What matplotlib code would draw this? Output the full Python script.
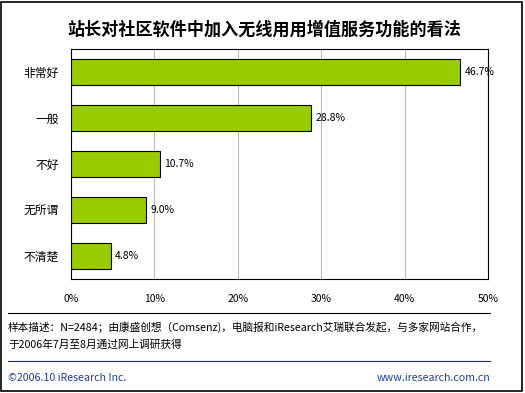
import matplotlib.pyplot as plt
from matplotlib.patches import Rectangle
from matplotlib.lines import Line2D

plt.rcParams['font.family'] = ['Noto Sans CJK SC', 'DejaVu Sans']

categories = ['非常好', '一般', '不好', '无所谓', '不清楚']
values = [46.7, 28.8, 10.7, 9.0, 4.8]
xticks = [0, 10, 20, 30, 40, 50]
xtick_labels = ['0%', '10%', '20%', '30%', '40%', '50%']

title = '站长对社区软件中加入无线用用增值服务功能的看法'
note1 = '样本描述：N=2484；由康盛创想（Comsenz)，电脑报和iResearch艾瑞联合发起，与多家网站合作，'
note2 = '于2006年7月至8月通过网上调研获得'
copyright_txt = '©2006.10 iResearch Inc.'
site_txt = 'www.iresearch.com.cn'

W, H = 525, 393
fig = plt.figure(figsize=(W / 100, H / 100), dpi=100)
fig.patch.set_facecolor('white')

# outer frame
fig.add_artist(Rectangle((1 / W, 2 / H), 521 / W, 389 / H, transform=fig.transFigure,
                         fill=False, edgecolor='black', linewidth=1.2))

ax = fig.add_axes([71 / W, 1 - 279 / H, 417 / W, 230 / H])
y = range(len(categories))
ax.barh(y, values, height=0.55, color='#99CC00', edgecolor='black', linewidth=0.8, zorder=3)
for yi, v in zip(y, values):
    ax.text(v + 0.5, yi, f'{v:.1f}%', va='center', ha='left', fontsize=7.5, zorder=4)

ax.set_xlim(0, 50)
ax.set_ylim(len(categories) - 0.5, -0.5)
ax.set_xticks(xticks)
ax.set_xticklabels(xtick_labels, fontsize=7.5)
ax.set_yticks(list(y))
ax.set_yticklabels(categories, fontsize=8.5)
ax.tick_params(axis='x', length=0, pad=11)
ax.tick_params(axis='y', length=0, pad=9)
ax.grid(axis='x', color='#BBBBBB', linewidth=0.8, zorder=0)
for s in ax.spines.values():
    s.set_linewidth(0.8)

fig.text(264 / W, 1 - 30 / H, title, ha='center', va='center', fontsize=12.3, fontweight='bold')

fig.add_artist(Line2D([8 / W, 490 / W], [1 - 313 / H, 1 - 313 / H], transform=fig.transFigure,
                      color='black', linewidth=0.8))
fig.text(8 / W, 1 - 327 / H, note1, ha='left', va='center', fontsize=7.7)
fig.text(8 / W, 1 - 345 / H, note2, ha='left', va='center', fontsize=7.7)
fig.add_artist(Line2D([8 / W, 490 / W], [1 - 361 / H, 1 - 361 / H], transform=fig.transFigure,
                      color='#1F2F6F', linewidth=0.8))
fig.text(8 / W, 1 - 378 / H, copyright_txt, ha='left', va='center', fontsize=7.7, color='#2040A0')
fig.text(490 / W, 1 - 378 / H, site_txt, ha='right', va='center', fontsize=7.7, color='#2040A0')

fig.savefig('out.png', dpi=100)
